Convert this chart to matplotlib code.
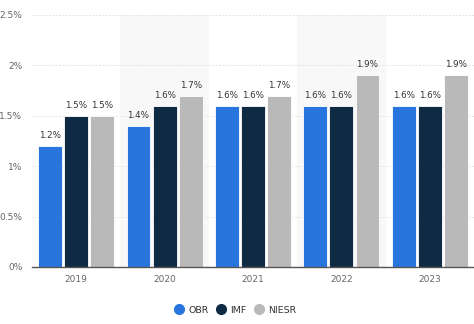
import matplotlib
matplotlib.use("Agg")
import matplotlib.pyplot as plt
import numpy as np

years = ["2019", "2020", "2021", "2022", "2023"]
obr = [1.2, 1.4, 1.6, 1.6, 1.6]
imf = [1.5, 1.6, 1.6, 1.6, 1.6]
niesr = [1.5, 1.7, 1.7, 1.9, 1.9]
series_names = ["OBR", "IMF", "NIESR"]
colors = ["#2876dd", "#0f2a43", "#b9b9b9"]

fig = plt.figure(figsize=(4.74, 3.24), dpi=100)
ax = fig.add_axes([0.0675, 0.176, 0.9325, 0.778])

x = np.arange(len(years))
w = 0.27
for i in range(len(years)):
    if i % 2 == 1:
        ax.axvspan(i - 0.5, i + 0.5, color="#f8f8f8", zorder=0, lw=0)

for k, (vals, c, name) in enumerate(zip([obr, imf, niesr], colors, series_names)):
    pos = x + (k - 1) * (w + 0.025)
    ax.bar(pos, vals, w, color=c, edgecolor="white", linewidth=0.6, zorder=3, label=name)
    for p, v in zip(pos, vals):
        ax.text(p, v + 0.06, f"{v:.1f}%", ha="center", va="bottom", fontsize=6.3,
                color="#333333", zorder=4)

ax.set_xlim(-0.5, len(years) - 0.5)
ax.set_ylim(0, 2.5)
ax.set_yticks([0, 0.5, 1, 1.5, 2, 2.5])
ax.set_yticklabels(["0%", "0.5%", "1%", "1.5%", "2%", "2.5%"])
ax.set_xticks(x)
ax.set_xticklabels(years)
ax.tick_params(axis="both", length=0, labelsize=6.5, colors="#666666")
ax.tick_params(axis="x", pad=6)
ax.tick_params(axis="y", pad=7)
ax.grid(axis="y", color="#dddddd", linestyle=(0, (2, 2)), linewidth=0.6, zorder=1)
for s in ["top", "right", "left"]:
    ax.spines[s].set_visible(False)
ax.spines["bottom"].set_color("#555555")
ax.spines["bottom"].set_linewidth(1)
ax.spines["bottom"].set_zorder(5)

handles = [plt.Line2D([], [], marker="o", linestyle="", markersize=7, color=c) for c in colors]
fig.legend(handles, series_names, loc="center", bbox_to_anchor=(0.495, 0.043), ncol=3,
           frameon=False, fontsize=6.8, labelcolor="#333333", handletextpad=0.4,
           columnspacing=0.7, handlelength=1.2)

fig.savefig("out.png", dpi=100)
